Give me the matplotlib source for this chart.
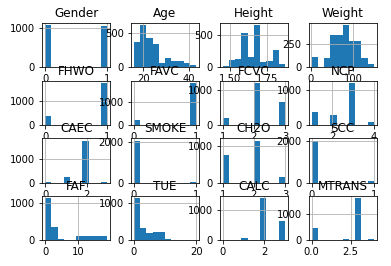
import numpy as np
import matplotlib
matplotlib.use("Agg")
import matplotlib.pyplot as plt

# column names in the order pandas laid them out
columns = ["Gender", "Age", "Height", "Weight",
           "FHWO", "FAVC", "FCVC", "NCP",
           "CAEC", "SMOKE", "CH2O", "SCC",
           "FAF", "TUE", "CALC", "MTRANS"]

# data range (min, max) of each column -> 10 equal bins like df.hist()
ranges = {
    "Gender": (0, 1), "Age": (16, 43), "Height": (1.455, 1.868), "Weight": (2.5, 148),
    "FHWO": (0, 1), "FAVC": (0, 1), "FCVC": (1, 3), "NCP": (1, 4),
    "CAEC": (0, 3), "SMOKE": (0, 1), "CH2O": (1, 3), "SCC": (0, 1),
    "FAF": (0, 19), "TUE": (0, 20), "CALC": (0, 3), "MTRANS": (0, 4),
}

# counts per bin
counts = {
    "Gender": [1068, 0, 0, 0, 0, 0, 0, 0, 0, 1043],
    "Age": [361, 607, 417, 339, 70, 130, 93, 93, 70, 28],
    "Height": [25, 114, 130, 530, 155, 649, 82, 105, 263, 52],
    "Weight": [110, 0, 100, 348, 348, 458, 290, 290, 106, 36],
    "FHWO": [385, 0, 0, 0, 0, 0, 0, 0, 0, 1726],
    "FAVC": [245, 0, 0, 0, 0, 0, 0, 0, 0, 1866],
    "FCVC": [215, 0, 0, 0, 0, 1200, 0, 0, 0, 660],
    "NCP": [363, 0, 0, 286, 0, 0, 1200, 0, 0, 77],
    "CAEC": [53, 0, 0, 242, 0, 0, 1765, 0, 0, 51],
    "SMOKE": [2067, 0, 0, 0, 0, 0, 0, 0, 0, 44],
    "CH2O": [752, 0, 0, 0, 0, 1150, 0, 0, 0, 154],
    "SCC": [2015, 0, 0, 0, 0, 0, 0, 0, 0, 96],
    "FAF": [1135, 351, 35, 0, 0, 116, 116, 116, 116, 116],
    "TUE": [1135, 324, 189, 224, 224, 35, 0, 0, 0, 0],
    "CALC": [1, 0, 0, 70, 0, 0, 1401, 0, 0, 639],
    "MTRANS": [457, 0, 7, 0, 0, 40, 0, 1580, 0, 60],
}

fig, axes = plt.subplots(4, 4, figsize=(391 / 72, 266 / 72), dpi=72)
fig.subplots_adjust(left=0.1074, right=0.964, bottom=0.096, top=0.9135,
                    wspace=0.3, hspace=0.3)

for ax, col in zip(axes.flat, columns):
    lo, hi = ranges[col]
    c = counts[col]
    edges = np.linspace(lo, hi, len(c) + 1)
    ax.hist(edges[:-1], bins=edges, weights=c, color="C0")
    ax.grid(True)
    ax.set_title(col)

fig.savefig("out.png", dpi=72)
